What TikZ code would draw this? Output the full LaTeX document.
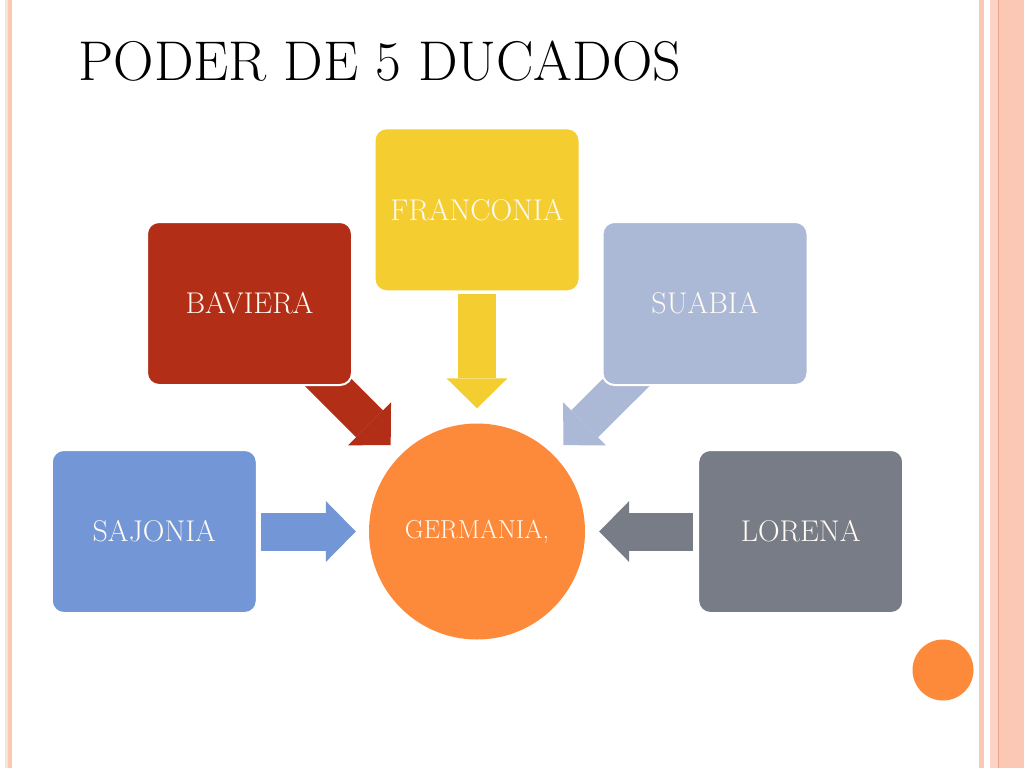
\documentclass[tikz,border=0pt]{standalone}
\usepackage{tikz}
\usetikzlibrary{positioning,arrows.meta,backgrounds}
\definecolor{cSaj}{HTML}{7296D6}
\definecolor{cBav}{HTML}{B22E17}
\definecolor{cFra}{HTML}{F4CD30}
\definecolor{cSua}{HTML}{ABB9D7}
\definecolor{cLor}{HTML}{787C86}
\definecolor{cGer}{HTML}{FD8A3A}
\definecolor{cStripe}{HTML}{FCC8B6}
\definecolor{cStripeDark}{HTML}{E8A48C}
\definecolor{cStripeLight}{HTML}{F8E4D6}
\definecolor{cText}{HTML}{FFFAF2}

\begin{document}
\begin{tikzpicture}[
  x=1pt,y=-1pt,
  duc/.style={draw=white,line width=2pt,rounded corners=12pt,minimum width=205pt,
    minimum height=163pt,text=cText,font=\fontsize{30}{34}\selectfont},
  hub/.style={circle,minimum size=216pt,inner sep=0pt,text=cText,
    font=\fontsize{26}{30}\selectfont},
  bigar/.style={line width=38pt,-{Triangle[length=30pt,width=61pt,line width=0pt 0 0]}}
]
\useasboundingbox (0,0) rectangle (1024,768);
% --- page border stripes ---
\fill[cStripeLight] (5,0) rectangle (8,768);
\fill[cStripe] (8,0) rectangle (12,768);
\fill[cStripe] (979,0) rectangle (984,768);
\fill[cStripe] (990,0) rectangle (1024,768);
\fill[cStripe!80!white] (990,0) rectangle (998,768);
\draw[cStripeDark,line width=1pt] (998.5,0) -- (998.5,768);

\node[anchor=base west,font=\fontsize{56}{62}\selectfont] (title) at (75,80) {PODER DE 5 DUCADOS};

% --- hub and the five duchies ---
\node[hub,fill=cGer] (ger) at (477,531.5) {GERMANIA,};
\node[duc,fill=cSaj,left=111pt of ger] (saj) {SAJONIA};
\node[duc,fill=cLor,right=112pt of ger] (lor) {LORENA};
\node[duc,fill=cFra,above=131pt of ger] (fra) {FRANCONIA};
\node[duc,fill=cBav] (bav) at (249.5,303.5) {BAVIERA};
\node[duc,fill=cSua] (sua) at (705,303.5) {SUABIA};

\node[circle,fill=cGer,minimum size=61pt] (dot) at (943,670) {};

\begin{scope}[on background layer]
  \fill[white] (0,0) rectangle (1024,768);
  \draw[bigar,cSaj,shorten <=3pt,shorten >=13pt] (saj) -- (ger);
  \draw[bigar,cLor,shorten <=4pt,shorten >=14pt] (lor) -- (ger);
  \draw[bigar,cFra,shorten <=2pt,shorten >=15pt] (fra) -- (ger);
  \draw[bigar,cBav,shorten <=-20pt,shorten >=14pt] (bav) -- (ger);
  \draw[bigar,cSua,shorten <=-20pt,shorten >=14pt] (sua) -- (ger);
\end{scope}
\end{tikzpicture}
\end{document}
